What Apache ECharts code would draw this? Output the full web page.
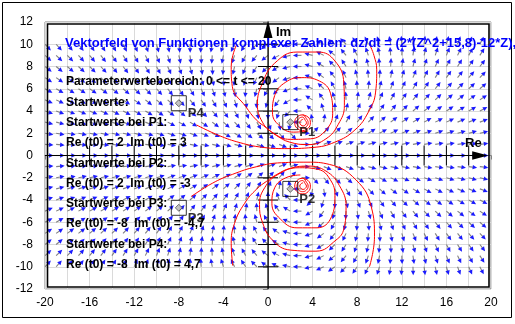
<!DOCTYPE html>
<html>
<head>
<meta charset="utf-8">
<script src="https://cdn.jsdelivr.net/npm/echarts@6/dist/echarts.min.js"></script>
<style>
  html, body { margin: 0; padding: 0; background: #ffffff; }
  #chart { width: 515px; height: 324px; }
</style>
</head>
<body>
<div id="chart"></div>
<script>
// ---- axes -------------------------------------------------------------
const xRange = [-20, 20];
const yRange = [-12, 12];
const tickStep = 2;
const xLabelEvery = 4;
// ticks drawn across the black Re / Im axes
const crossTicksRe = [-18, -16, -14, -12, -10, -8, -6, -4, -2, 2, 4, 6, 8, 10, 12, 14, 16, 18];
const crossTicksIm = [-10, -8, -6, -4, -2, 2, 4, 6, 8, 10];

// ---- vector field: dz/dt = (2*(Z^2+15,8)-12*Z) -----------------------
const coefA = 2;
const coefC = 15.8;
const coefB = 12;
const fieldXs = [-20, -19, -18, -17, -16, -15, -14, -13, -12, -11, -10, -9, -8, -7, -6, -5, -4, -3, -2, -1,
                 0, 1, 2, 3, 4, 5, 6, 7, 8, 9, 10, 11, 12, 13, 14, 15, 16, 17, 18, 19];
const fieldYs = [-10, -9, -8, -7, -6, -5, -4, -3, -2, -1, 0, 1, 2, 3, 4, 5, 6, 7, 8, 9, 10];

// ---- start values -----------------------------------------------------
const startNames = ['P1', 'P2', 'P3', 'P4'];
const startRe = [2, 2, -8, -8];
const startIm = [3, -3, -4.7, 4.7];

// ---- trajectories (Re, Im) ---------------------------------------------
const pathP4 = [[-6.42, 2.75], [-4.4, 1.8], [-2.5, 1.15], [-0.6, 0.75], [1.5, 0.62], [4.0, 0.72], [6.0, 1.2],
                [7.8, 2.3], [9.0, 3.9], [9.65, 5.7], [9.75, 7.7], [9.5, 9.0], [9.1, 10.0]];
const spiralUpper = [[-2.85, 9.9], [-3.3, 8.0], [-3.2, 6.2], [-2.0, 4.4], [-1.05, 3.2], [-0.15, 2.5], [0.75, 1.8],
                     [1.95, 1.2], [3.6, 0.98], [5.2, 1.5], [6.3, 2.8], [6.85, 4.5], [6.8, 6.5], [6.0, 8.5],
                     [4.5, 9.3], [2.6, 9.3], [0.6, 8.3], [-0.5, 6.5], [-0.95, 4.6], [-0.5, 3.0], [0.5, 2.0],
                     [2.0, 1.45], [3.8, 1.5], [5.2, 2.3], [5.8, 3.8], [5.6, 5.6], [4.6, 6.7], [3.0, 7.0],
                     [1.6, 6.6], [0.6, 5.4], [0.4, 3.9], [1.0, 2.7], [2.3, 2.1], [3.6, 2.2]];
const ringsP1 = [[3.1, 3.65], [3.6, 3.45], [3.8, 2.95], [3.6, 2.45], [3.1, 2.25], [2.6, 2.45], [2.4, 2.95], [2.6, 3.45], [3.1, 3.65],
                 [3.45, 3.3], [3.6, 2.95], [3.45, 2.6], [3.1, 2.45], [2.75, 2.6], [2.6, 2.95], [2.75, 3.3], [3.1, 3.45],
                 [3.35, 3.15], [3.45, 2.95], [3.35, 2.75], [3.15, 2.65], [2.95, 2.75], [2.85, 2.95], [2.95, 3.15], [3.15, 3.25]];
const pathP3 = [[-6.9, -3.7], [-5.0, -2.5], [-3.2, -1.7], [-1.0, -1.0], [1.2, -0.65], [3.5, -0.6], [5.5, -0.8],
                [7.9, -2.2], [9.26, -4.6], [9.55, -7.3], [9.1, -10.0]];
const spiralLower = [[-3.16, -9.9], [-3.3, -7.9], [-3.0, -6.1], [-2.1, -4.3], [-1.0, -3.0], [-0.1, -2.3], [0.8, -1.7],
                     [2.0, -1.15], [3.6, -0.95], [5.2, -1.4], [6.4, -2.7], [7.0, -4.6], [6.8, -6.6], [6.1, -7.6],
                     [4.3, -8.6], [2.0, -8.5], [0.4, -7.6], [-0.5, -6.0], [-0.76, -4.4], [-0.3, -2.9], [0.9, -1.7],
                     [2.8, -1.1], [4.5, -1.25], [5.6, -2.2], [6.0, -3.6], [5.7, -5.5], [4.4, -6.5], [2.6, -6.5],
                     [1.1, -5.7], [0.35, -4.3], [0.6, -2.9], [1.6, -2.0], [2.9, -1.75]];
const ringsP2 = [[3.1, -2.05], [3.6, -2.25], [3.8, -2.75], [3.6, -3.25], [3.1, -3.45], [2.6, -3.25], [2.4, -2.75], [2.6, -2.25], [3.1, -2.05],
                 [3.45, -2.4], [3.6, -2.75], [3.45, -3.1], [3.1, -3.25], [2.75, -3.1], [2.6, -2.75], [2.75, -2.4], [3.1, -2.25],
                 [3.35, -2.55], [3.45, -2.75], [3.35, -2.95], [3.15, -3.05], [2.95, -2.95], [2.85, -2.75], [2.95, -2.55], [3.15, -2.45]];
const trajectories = [pathP4, spiralUpper, ringsP1, pathP3, spiralLower, ringsP2];

// ---- texts ------------------------------------------------------------
const titleText = 'Vektorfeld von Funktionen komplexer Zahlen: dz/dt = (2*(Z^2+15,8)-12*Z),';
const infoLines = [
  'Parameterwertebereich: 0 <= t <= 20',
  'Startwerte:',
  'Startwerte bei P1:',
  'Re (t0) = 2  Im (t0) = 3',
  'Startwerte bei P2:',
  'Re (t0) = 2  Im (t0) = -3',
  'Startwerte bei P3:',
  'Re (t0) = -8  Im (t0) = -4,7',
  'Startwerte bei P4:',
  'Re (t0) = -8  Im (t0) = 4,7'
];
const reAxisName = 'Re';
const imAxisName = 'Im';

// ---------------------------------------------------------------------
const FONT = '"Liberation Sans", Arial, sans-serif';

function fieldAngle(x, y) {
  const re = coefA * (x * x - y * y + coefC) - coefB * x;
  const im = coefA * (2 * x * y) - coefB * y;
  return Math.atan2(im, re);
}

const fieldPoints = [];
fieldYs.forEach(function (y) {
  fieldXs.forEach(function (x) { fieldPoints.push([x, y]); });
});

function renderArrow(params, api) {
  const x = api.value(0), y = api.value(1);
  const p = api.coord([x, y]);
  const a = fieldAngle(x, y);
  const ux = Math.cos(a), uy = -Math.sin(a);
  const L = 8.5, H = 4.5, W = 2.2;
  const tip = [p[0] + ux * L, p[1] + uy * L];
  const base = [tip[0] - ux * H, tip[1] - uy * H];
  const nx = -uy, ny = ux;
  return {
    type: 'group',
    children: [
      { type: 'line', shape: { x1: p[0], y1: p[1], x2: base[0] + ux * 1.5, y2: base[1] + uy * 1.5 },
        style: { stroke: '#808080', lineWidth: 1.1 } },
      { type: 'polygon', shape: { points: [tip, [base[0] + nx * W, base[1] + ny * W], [base[0] - nx * W, base[1] - ny * W]] },
        style: { fill: '#1a1aff' } }
    ]
  };
}

function renderAxes(params, api) {
  const children = [];
  const left = api.coord([xRange[0], 0]);
  const reTip = api.coord([19.75, 0]);
  const bottom = api.coord([0, yRange[0]]);
  const imTip = api.coord([0, yRange[1]]);
  children.push({ type: 'line', shape: { x1: left[0], y1: left[1], x2: reTip[0] - 4, y2: reTip[1] },
                  style: { stroke: '#000', lineWidth: 1.2 } });
  children.push({ type: 'line', shape: { x1: bottom[0], y1: bottom[1], x2: imTip[0], y2: imTip[1] + 4 },
                  style: { stroke: '#000', lineWidth: 1.2 } });
  children.push({ type: 'polygon', shape: { points: [[reTip[0], reTip[1]], [reTip[0] - 16, reTip[1] - 4.3], [reTip[0] - 16, reTip[1] + 4.3]] },
                  style: { fill: '#000' } });
  children.push({ type: 'polygon', shape: { points: [[imTip[0], imTip[1] - 1.5], [imTip[0] - 4.5, imTip[1] + 16], [imTip[0] + 4.5, imTip[1] + 16]] },
                  style: { fill: '#000' } });
  crossTicksRe.forEach(function (v) {
    const q = api.coord([v, 0]);
    children.push({ type: 'line', shape: { x1: q[0], y1: q[1] - 10, x2: q[0], y2: q[1] + 10 }, style: { stroke: '#000', lineWidth: 1 } });
  });
  crossTicksIm.forEach(function (v) {
    const q = api.coord([0, v]);
    children.push({ type: 'line', shape: { x1: q[0] - 10, y1: q[1], x2: q[0] + 10, y2: q[1] }, style: { stroke: '#000', lineWidth: 1 } });
  });
  return { type: 'group', children: children };
}

const chart = echarts.init(document.getElementById('chart'), null, { renderer: 'canvas' });

const option = {
  animation: false,
  backgroundColor: '#ffffff',
  grid: { left: 45, right: 24, top: 22, bottom: 35, show: true, borderColor: '#808080', borderWidth: 1, backgroundColor: '#ffffff' },
  xAxis: {
    type: 'value', min: xRange[0], max: xRange[1], interval: tickStep,
    axisLine: { show: true, lineStyle: { color: '#808080' } },
    axisTick: { show: true, length: 4, lineStyle: { color: '#808080' } },
    axisLabel: { color: '#000', fontFamily: FONT, fontSize: 12, margin: 8,
                 formatter: function (v) { return v % xLabelEvery === 0 ? String(v) : ''; } },
    splitLine: { show: true, lineStyle: { color: '#dadada', width: 1 } }
  },
  yAxis: {
    type: 'value', min: yRange[0], max: yRange[1], interval: tickStep,
    axisLine: { show: true, lineStyle: { color: '#808080' } },
    axisTick: { show: true, length: 5, lineStyle: { color: '#808080' } },
    axisLabel: { color: '#000', fontFamily: FONT, fontSize: 12, margin: 12 },
    splitLine: { show: true, lineStyle: { color: '#dadada', width: 1 } }
  },
  series: [
    { type: 'custom', name: 'field', data: fieldPoints, renderItem: renderArrow, clip: true, silent: true, z: 3 },
    { type: 'custom', name: 'axes', data: [[0, 0]], renderItem: renderAxes, clip: false, silent: true, z: 4 }
  ].concat(trajectories.map(function (path) {
    return { type: 'line', data: path, smooth: 0.45, showSymbol: false, clip: true, silent: true,
             lineStyle: { color: '#ff0000', width: 1 }, z: 5 };
  })).concat([
    { type: 'scatter', name: 'start', silent: true, z: 6,
      data: startNames.map(function (n, i) { return { name: n, value: [startRe[i], startIm[i]] }; }),
      symbol: 'rect', symbolSize: 15,
      itemStyle: { color: 'rgba(0,0,0,0)', borderColor: '#000', borderWidth: 1 },
      label: { show: true, position: [17, 12], formatter: '{b}', color: '#000',
               fontFamily: FONT, fontWeight: 'bold', fontSize: 13 } },
    { type: 'scatter', name: 'startDot', silent: true, z: 7,
      data: startNames.map(function (n, i) { return [startRe[i], startIm[i]]; }),
      symbol: 'diamond', symbolSize: 7,
      itemStyle: { color: '#b4b4b4', borderColor: '#505050', borderWidth: 1 } }
  ])
};
chart.setOption(option);

// frame, title and information texts
const tl = chart.convertToPixel({ gridIndex: 0 }, [xRange[0], yRange[1]]);
const br = chart.convertToPixel({ gridIndex: 0 }, [xRange[1], yRange[0]]);
const imTop = chart.convertToPixel({ gridIndex: 0 }, [0, yRange[1]]);
const reEnd = chart.convertToPixel({ gridIndex: 0 }, [xRange[1], 0]);
const graphics = [
  { type: 'rect', z: 1, silent: true, shape: { x: 2.5, y: 2.5, width: 509, height: 315 },
    style: { fill: 'none', stroke: '#000', lineWidth: 1 } },
  { type: 'rect', z: 20, silent: true,
    shape: { x: tl[0] + 2.5, y: tl[1] + 2, width: br[0] - tl[0] - 4.5, height: br[1] - tl[1] - 4 },
    style: { fill: 'none', stroke: '#000', lineWidth: 1.6 } },
  { type: 'text', z: 30, silent: true, x: 65, y: 43,
    style: { text: titleText, fill: '#0000ff', font: 'bold 13px ' + FONT, verticalAlign: 'middle' } },
  { type: 'text', z: 30, silent: true, x: imTop[0] + 8, y: imTop[1] + 10,
    style: { text: imAxisName, fill: '#000', font: 'bold 13px ' + FONT, verticalAlign: 'middle' } },
  { type: 'text', z: 30, silent: true, x: reEnd[0] - 26, y: reEnd[1] - 12,
    style: { text: reAxisName, fill: '#000', font: 'bold 13px ' + FONT, verticalAlign: 'middle' } }
];
infoLines.forEach(function (t, i) {
  graphics.push({ type: 'text', z: 30, silent: true, x: 66, y: 82 + i * 20.3,
    style: { text: t, fill: '#000', font: 'bold 12px ' + FONT, verticalAlign: 'middle' } });
});
chart.setOption({ graphic: graphics });
</script>
</body>
</html>
